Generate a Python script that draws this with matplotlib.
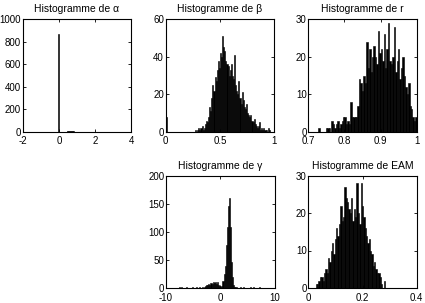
import numpy as np
import matplotlib
matplotlib.use('Agg')
import matplotlib.pyplot as plt
from matplotlib.ticker import FormatStrFormatter

# histogram counts (bin start, bin width, counts)
alpha_start, alpha_width = -0.025, 0.05
alpha_counts = [865, 0, 1, 0, 1, 1, 0, 1, 2, 3, 5, 6, 7, 6, 5, 4, 3, 2, 2, 1,
                1, 0, 1, 1, 0, 1, 0, 0, 1, 0, 1, 0, 0, 1, 0, 0, 1, 0, 0, 1, 1]

beta_start, beta_width = 0.0, 0.01
beta_counts = [8] + [0] * 24 + [
    0, 0, 1, 0, 1, 2, 1, 2, 3, 1, 2, 4, 6, 5, 8, 13, 11, 18, 25, 22,
    29, 27, 33, 38, 34, 42, 40, 51, 45, 43, 38, 36, 35, 30, 33, 36, 30, 28, 41, 25,
    22, 20, 27, 18, 15, 21, 17, 13, 12, 15, 10, 9, 8, 9, 6, 5, 7, 4, 3, 2,
    3, 5, 1, 2, 1, 2, 1, 1, 0, 2, 1]

r_start, r_width = 0.728, 0.004
r_counts = [1, 0, 0, 0, 0, 1, 1, 1, 0, 3, 2, 1, 2, 3, 1, 2, 3, 4, 4, 2,
            3, 2, 8, 4, 4, 4, 4, 7, 14, 13, 11, 15, 13, 24, 17, 22, 16, 20, 23, 20,
            18, 27, 21, 22, 19, 26, 17, 22, 29, 19, 18, 20, 28, 16, 19, 22, 14, 17, 20, 15,
            12, 10, 13, 7, 6, 4, 3, 4]

gamma_start, gamma_width = -8.0, 0.2
gamma_counts = [0, 0, 1, 0, 1, 0, 0, 0, 1, 0, 0, 0, 0, 0, 1, 0, 0, 0, 2, 0,
                1, 0, 0, 1, 0, 2, 4, 6, 5, 7, 6, 9, 8, 10, 9, 11, 8, 10, 6, 3,
                2, 3, 12, 25, 40, 77, 109, 146, 160, 108, 46, 20, 6, 2, 1, 0, 0, 0, 1, 0,
                0, 1, 0, 0, 0, 0, 0, 2, 0, 0, 1, 0, 0, 0, 0, 0, 1, 0, 0, 0]

eam_start, eam_width = 0.0275, 0.005
eam_counts = [1, 1, 2, 3, 3, 2, 4, 5, 4, 8, 7, 10, 12, 9, 13, 16, 14, 17, 22, 18,
              19, 27, 24, 23, 21, 20, 24, 18, 21, 19, 28, 20, 17, 28, 22, 19, 16, 14, 12, 13,
              10, 9, 6, 7, 5, 4, 4, 3, 1, 0, 2]

panels = [
    ('Histogramme de α', alpha_start, alpha_width, alpha_counts, (-2, 4), [-2, 0, 2, 4], (0, 1000), np.arange(0, 1001, 200)),
    ('Histogramme de β', beta_start, beta_width, beta_counts, (0, 1), [0, 0.5, 1], (0, 60), np.arange(0, 61, 20)),
    ('Histogramme de r', r_start, r_width, r_counts, (0.7, 1), [0.7, 0.8, 0.9, 1], (0, 30), np.arange(0, 31, 10)),
    ('Histogramme de γ', gamma_start, gamma_width, gamma_counts, (-10, 10), [-10, 0, 10], (0, 200), np.arange(0, 201, 50)),
    ('Histogramme de EAM', eam_start, eam_width, eam_counts, (0, 0.4), [0, 0.2, 0.4], (0, 30), np.arange(0, 31, 10)),
]

plt.rcParams['font.family'] = ['Liberation Sans', 'DejaVu Sans']
plt.rcParams['font.size'] = 7

fig = plt.figure(figsize=(4.25, 3.03), dpi=100)
W, H = 425, 303
boxes = [(22.7, 19.3), (165.7, 19.3), (308.3, 19.3), (166, 175.5), (308.3, 175.5)]
for (title, start, width, counts, xlim, xticks, ylim, yticks), (x0, y0) in zip(panels, boxes):
    ax = fig.add_axes([x0 / W, 1 - (y0 + 112.5) / H, 108.5 / W, 112.5 / H])
    counts = np.array(counts)
    lefts = start + width * np.arange(len(counts))
    nz = counts > 0
    ax.bar(lefts[nz], counts[nz], width=width, align='edge', color='black',
           edgecolor='black', linewidth=0.4)
    ax.set_xlim(xlim)
    ax.set_ylim(ylim)
    ax.set_xticks(xticks)
    ax.set_yticks(yticks)
    ax.xaxis.set_major_formatter(FormatStrFormatter('%g'))
    ax.yaxis.set_major_formatter(FormatStrFormatter('%g'))
    ax.tick_params(direction='in', top=True, right=True, length=2.5, width=0.6, labelsize=7)
    ax.tick_params(axis='x', pad=3.3)
    ax.tick_params(axis='y', pad=1.2)
    for s in ax.spines.values():
        s.set_linewidth(0.8)
    ax.set_title(title, fontsize=7.5, pad=5)

fig.savefig('out.png', dpi=100)
